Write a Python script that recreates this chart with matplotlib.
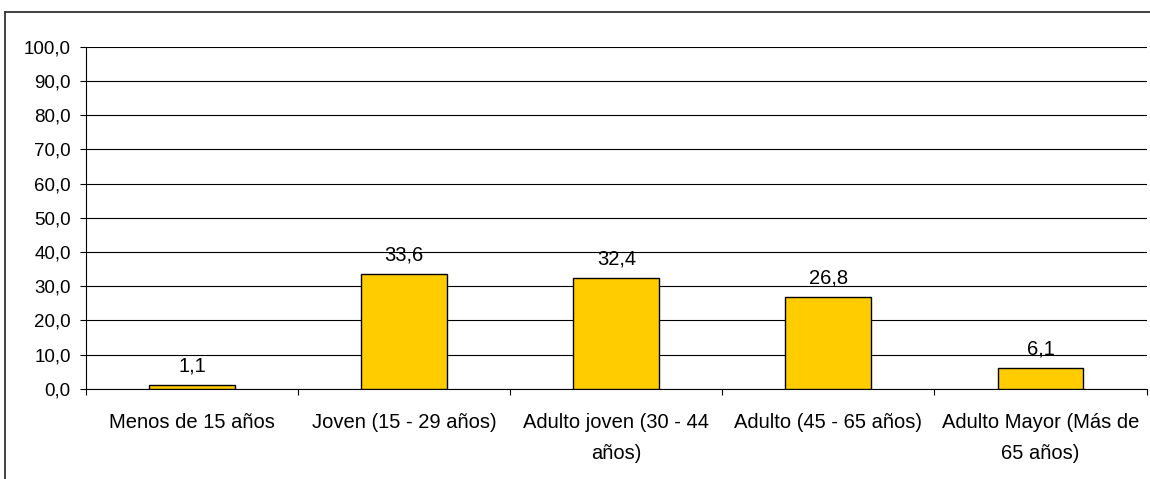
import matplotlib
matplotlib.use("Agg")
import matplotlib.pyplot as plt
from matplotlib.lines import Line2D
import numpy as np

plt.rcParams['font.family'] = ['Liberation Sans', 'DejaVu Sans']

categorias = ["Menos de 15 años", "Joven (15 - 29 años)", "Adulto joven (30 - 44\naños)",
              "Adulto (45 - 65 años)", "Adulto Mayor (Más de\n65 años)"]
valores = [1.1, 33.6, 32.4, 26.8, 6.1]
yticks = np.arange(0, 101, 10)

fig = plt.figure(figsize=(11.5, 4.79), dpi=100)
ax = fig.add_axes([0.0748, 0.1879, 0.9222, 0.715])

x = np.arange(len(categorias))
ax.bar(x, valores, width=0.405, color='#FFCC00', edgecolor='black', linewidth=1.0, zorder=3)

for xi, v in zip(x, valores):
    ax.annotate(f"{v:.1f}".replace('.', ','), (xi, v), xytext=(0, 7), textcoords='offset points',
                ha='center', va='bottom', fontsize=14.5, zorder=4)

ax.set_xlim(-0.5, len(categorias) - 0.5)
ax.set_ylim(0, 100)
ax.set_yticks(yticks)
ax.set_yticklabels([f"{t:.1f}".replace('.', ',') for t in yticks], fontsize=13.5)
ax.yaxis.grid(True, color='black', linewidth=0.8, zorder=0)

ax.set_xticks(x)
ax.set_xticklabels(categorias, fontsize=14.5, linespacing=1.85)
ax.set_xticks(np.arange(-0.5, len(categorias)), minor=True)
ax.tick_params(axis='x', which='major', length=0, pad=17)
ax.tick_params(axis='x', which='minor', length=4.5, width=0.8, direction='out')
ax.tick_params(axis='y', length=4.5, width=0.8, pad=6.5)

for s in ['top', 'right']:
    ax.spines[s].set_visible(False)
for s in ['left', 'bottom']:
    ax.spines[s].set_linewidth(0.8)

# marco exterior del grafico
fig.add_artist(Line2D([5 / 1150, 5 / 1150], [-0.1, 1 - 12 / 479], color='#333333', linewidth=1.3,
                      transform=fig.transFigure))
fig.add_artist(Line2D([5 / 1150, 1.1], [1 - 12 / 479, 1 - 12 / 479], color='#333333', linewidth=1.3,
                      transform=fig.transFigure))

fig.savefig("out.png", dpi=100)
